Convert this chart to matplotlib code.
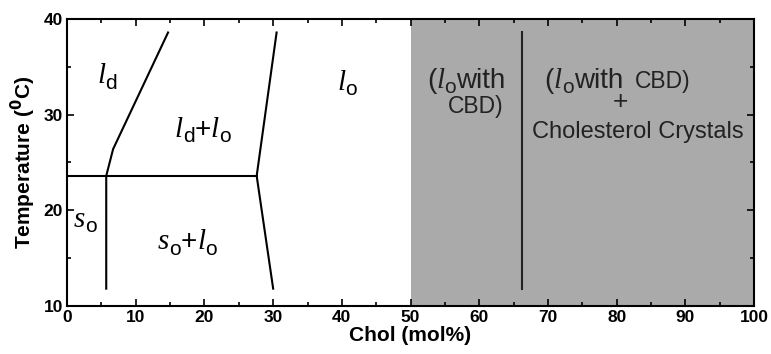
import matplotlib.pyplot as plt
from matplotlib.ticker import MultipleLocator

plt.rcParams['font.family'] = ['Liberation Sans', 'DejaVu Sans']

# phase boundaries (Chol mol%, temperature degC)
left_x = [5.7, 5.7, 6.7, 14.7]
left_y = [11.8, 23.6, 26.4, 38.6]
right_x = [30.0, 27.6, 30.5]
right_y = [11.8, 23.6, 38.6]
tie_x = [0, 27.6]
tie_y = [23.6, 23.6]
cbd_x = [66.2, 66.2]
cbd_y = [11.8, 38.6]
shade_x = [50, 100]

fig = plt.figure(figsize=(7.71, 3.54), dpi=100)
ax = fig.add_axes([0.087, 0.136, 0.891, 0.81])
ax.set_xlim(0, 100)
ax.set_ylim(10, 40)
rend = fig.canvas.get_renderer()

ax.axvspan(shade_x[0], shade_x[1], color='#aaaaaa', lw=0)
ax.plot(left_x, left_y, color='black', lw=1.5)
ax.plot(right_x, right_y, color='black', lw=1.5)
ax.plot(tie_x, tie_y, color='black', lw=1.5)
ax.plot(cbd_x, cbd_y, color='#222222', lw=1.5)


# text pieces: serif italic letter (L), sans subscript (S), sans normal (N)
def label(x, y, parts, color='black', big=21, norm=20):
    xs = 0
    for kind, s in parts:
        if kind == 'L':
            kw = dict(fontsize=big, family='Liberation Serif', style='italic')
            dy = 0
        elif kind == 'S':
            kw = dict(fontsize=15, family='Liberation Sans')
            dy = -4
        else:
            kw = dict(fontsize=norm, family='Liberation Sans')
            dy = 0
        t = ax.annotate(s, (x, y), xytext=(xs, dy), textcoords='offset points',
                        ha='left', va='baseline', color=color, **kw)
        xs += t.get_window_extent(rend).width * 72 / fig.dpi


label(4.4, 33.3, [('L', 'l'), ('S', 'd')])
label(39.3, 32.6, [('L', 'l'), ('S', 'o')])
label(15.7, 27.7, [('L', 'l'), ('S', 'd'), ('N', '+'), ('L', 'l'), ('S', 'o')])
label(0.9, 18.3, [('L', 's'), ('S', 'o')])
label(13.2, 15.9, [('L', 's'), ('S', 'o'), ('N', '+'), ('L', 'l'), ('S', 'o')])

gc = '#222222'
label(52.4, 32.8, [('N', '('), ('L', 'l'), ('S', 'o'), ('N', 'with')], color=gc)
label(69.5, 32.8, [('N', '('), ('L', 'l'), ('S', 'o'), ('N', 'with')], color=gc)
ax.text(55.5, 30.2, 'CBD)', ha='left', va='baseline', fontsize=16.5, color=gc)
ax.text(82.7, 32.8, 'CBD)', ha='left', va='baseline', fontsize=16.5, color=gc)
ax.text(80.5, 31.3, '+', ha='center', va='center', fontsize=19, color=gc)
ax.text(67.7, 27.6, 'Cholesterol Crystals', ha='left', va='baseline', fontsize=17, color=gc)

ax.xaxis.set_major_locator(MultipleLocator(10))
ax.xaxis.set_minor_locator(MultipleLocator(5))
ax.yaxis.set_major_locator(MultipleLocator(10))
ax.yaxis.set_minor_locator(MultipleLocator(5))
ax.tick_params(which='both', direction='in', top=True, right=True, width=1.2)
ax.tick_params(which='major', length=5, labelsize=12.5, pad=3)
ax.tick_params(which='minor', length=3)
for t in ax.get_xticklabels() + ax.get_yticklabels():
    t.set_fontweight('bold')
for s in ax.spines.values():
    s.set_linewidth(1.5)

ax.set_xlabel('Chol (mol%)', fontsize=15, fontweight='bold', labelpad=1)
ax.set_ylabel(r'Temperature ($^{\mathbf{0}}$C)', fontsize=15, fontweight='bold', labelpad=4)

fig.savefig('out.png', dpi=100)
